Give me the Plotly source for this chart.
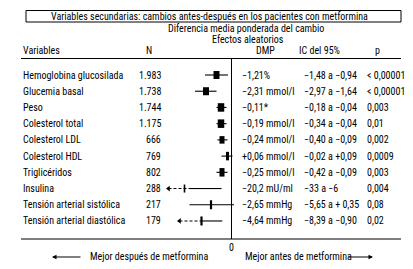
import plotly.graph_objects as go

# page is 413x269 but the browser body has an 8px margin, so the figure is 405x261
PAGE_W, PAGE_H = 413, 269
OFF = 8
W, H = PAGE_W - OFF, PAGE_H - OFF

# ---------------- data ----------------
variables = ["Hemoglobina glucosilada", "Glucemia basal", "Peso", "Colesterol total",
             "Colesterol LDL", "Colesterol HDL", "Triglicéridos", "Insulina",
             "Tensión arterial sistólica", "Tensión arterial diastólica"]
n_values = ["1.983", "1.738", "1.744", "1.175", "666", "769", "802", "288", "217", "179"]
dmp_labels = ["−1,21%", "−2,31 mmol/l", "−0,11*", "−0,19 mmol/l", "−0,24 mmol/l",
              "+0,06 mmol/l", "−0,25 mmol/l", "−20,2 mU/ml", "−2,65 mmHg", "−4,64 mmHg"]
ic95_labels = ["−1,48 a −0,94", "−2,97 a −1,64", "−0,18 a −0,04", "−0,34 a −0,04",
               "−0,40 a −0,09", "−0,02 a +0,09", "−0,42 a −0,09", "−33 a −6",
               "−5,65 a + 0,35", "−8,39 a −0,90"]
p_labels = ["< 0,00001", "< 0,00001", "0,003", "0,01", "0,002", "0,0009", "0,003",
            "0,004", "0,08", "0,02"]

# forest plot positions on the common (standardised) plotting scale
effect_est = [-1.5, -2.55, -1.05, -1.05, -0.95, -0.4, -0.95, -4.7, -2.05, -3.0]
effect_lo = [-2.65, -3.65, -1.5, -1.5, -1.4, -1.0, -1.5, -6.3, -4.2, -5.2]
effect_hi = [-0.35, -1.5, -0.5, -0.5, -0.4, 0.1, -0.4, -1.0, 0.25, -0.92]
# where the solid part of a truncated interval starts (None = fully solid)
effect_solid_from = [None, None, None, None, None, None, None, -4.15, None, -3.15]
truncated = [False, False, False, False, False, False, False, True, False, True]

# marker (weight box) sizes in px: width, height
box_w = [6, 6, 6.5, 6.5, 5, 3, 5, 1.6, 2.2, 2.2]
box_h = [8, 8, 8.5, 8.5, 7.5, 8.5, 8.5, 8, 9, 9]

# ---------------- geometry helpers (page pixel -> paper) ----------------
ROW0, ROWSTEP = 75.0 - OFF, 16.22
X0PX = 231.5 - OFF  # figure pixel of the zero line


def xp(px):
    return (px - OFF) / W


def yp(py):
    return 1 - (py - OFF) / H


FONT = "Roboto Condensed, Liberation Sans, sans-serif"
FS = 10

fig = go.Figure()
rows = list(range(len(variables)))

for i in rows:
    lo, hi, est, sf = effect_lo[i], effect_hi[i], effect_est[i], effect_solid_from[i]
    if sf is None:
        fig.add_trace(go.Scatter(x=[lo, hi], y=[i, i], mode="lines",
                                 line=dict(color="black", width=1.1), hoverinfo="skip"))
    else:
        fig.add_trace(go.Scatter(x=[lo, sf], y=[i, i], mode="lines",
                                 line=dict(color="black", width=1.1, dash="3px,2px"), hoverinfo="skip"))
        fig.add_trace(go.Scatter(x=[sf, hi], y=[i, i], mode="lines",
                                 line=dict(color="black", width=1.1), hoverinfo="skip"))
    if truncated[i]:
        fig.add_trace(go.Scatter(x=[lo], y=[i], mode="markers",
                                 marker=dict(symbol="triangle-left", size=5, color="black"),
                                 hoverinfo="skip"))
    dh = box_h[i] / 2 / ROWSTEP
    fig.add_trace(go.Scatter(x=[est, est], y=[i - dh, i + dh], mode="lines",
                             line=dict(color="black", width=box_w[i]), hoverinfo="skip"))

# zero line
fig.add_trace(go.Scatter(x=[0, 0], y=[(58.5 - OFF - ROW0) / ROWSTEP, (239 - OFF - ROW0) / ROWSTEP],
                         mode="lines", line=dict(color="black", width=1), hoverinfo="skip"))

ann = []


def txt(text, x, y, xanchor="left", yref="paper", size=FS):
    ann.append(dict(text=text, x=x, y=y, xref="paper", yref=yref, xanchor=xanchor,
                    yanchor="middle", showarrow=False, font=dict(family=FONT, size=size, color="black")))


for i in rows:
    txt(variables[i], xp(21), i, yref="y")
    txt(n_values[i], xp(163), i, xanchor="right", yref="y")
    txt(dmp_labels[i], xp(239.5), i, yref="y")
    txt(ic95_labels[i], xp(301.5), i, yref="y")
    txt(p_labels[i], xp(365), i, yref="y")

txt("Variables secundarias: cambios antes-después en los pacientes con metformina",
    xp(209), yp(16.5), xanchor="center")
txt("Diferencia media ponderada del cambio", xp(166), yp(28.5))
txt("Efectos aleatorios", xp(210), yp(39))
txt("Variables", xp(21), yp(50.5))
txt("N", xp(149), yp(50.5), xanchor="center")
txt("DMP", xp(265.5), yp(50.5), xanchor="center")
txt("IC del 95%", xp(297), yp(50.5))
txt("p", xp(373), yp(50.5))
txt("0", xp(231.5), yp(247), xanchor="center")
txt("Mejor después de metformina", xp(88), yp(257))
txt("Mejor antes de metformina", xp(243), yp(257))

# legend arrows
ann.append(dict(x=xp(52), y=yp(257), xref="paper", yref="paper", ax=30, ay=0,
                showarrow=True, arrowhead=2, arrowsize=0.9, arrowwidth=1, arrowcolor="black", text=""))
ann.append(dict(x=xp(373), y=yp(257), xref="paper", yref="paper", ax=-26, ay=0,
                showarrow=True, arrowhead=2, arrowsize=0.9, arrowwidth=1, arrowcolor="black", text=""))

shapes = [
    dict(type="rect", xref="paper", yref="paper", x0=xp(26), x1=xp(401), y0=yp(10.5), y1=yp(22),
         line=dict(color="black", width=1)),
    dict(type="line", xref="paper", yref="paper", x0=xp(21), x1=xp(401), y0=yp(58.5), y1=yp(58.5),
         line=dict(color="black", width=1)),
    dict(type="line", xref="paper", yref="paper", x0=xp(21), x1=xp(401), y0=yp(239), y1=yp(239),
         line=dict(color="black", width=1)),
]

fig.update_layout(
    width=W, height=H, margin=dict(l=0, r=0, t=0, b=0),
    paper_bgcolor="white", plot_bgcolor="white", showlegend=False,
    xaxis=dict(range=[-X0PX / 10, (W - X0PX) / 10], visible=False, fixedrange=True),
    yaxis=dict(range=[(H - ROW0) / ROWSTEP, -ROW0 / ROWSTEP], visible=False, fixedrange=True),
    annotations=ann, shapes=shapes,
)

fig.write_html("out.html", config={"displayModeBar": False})
